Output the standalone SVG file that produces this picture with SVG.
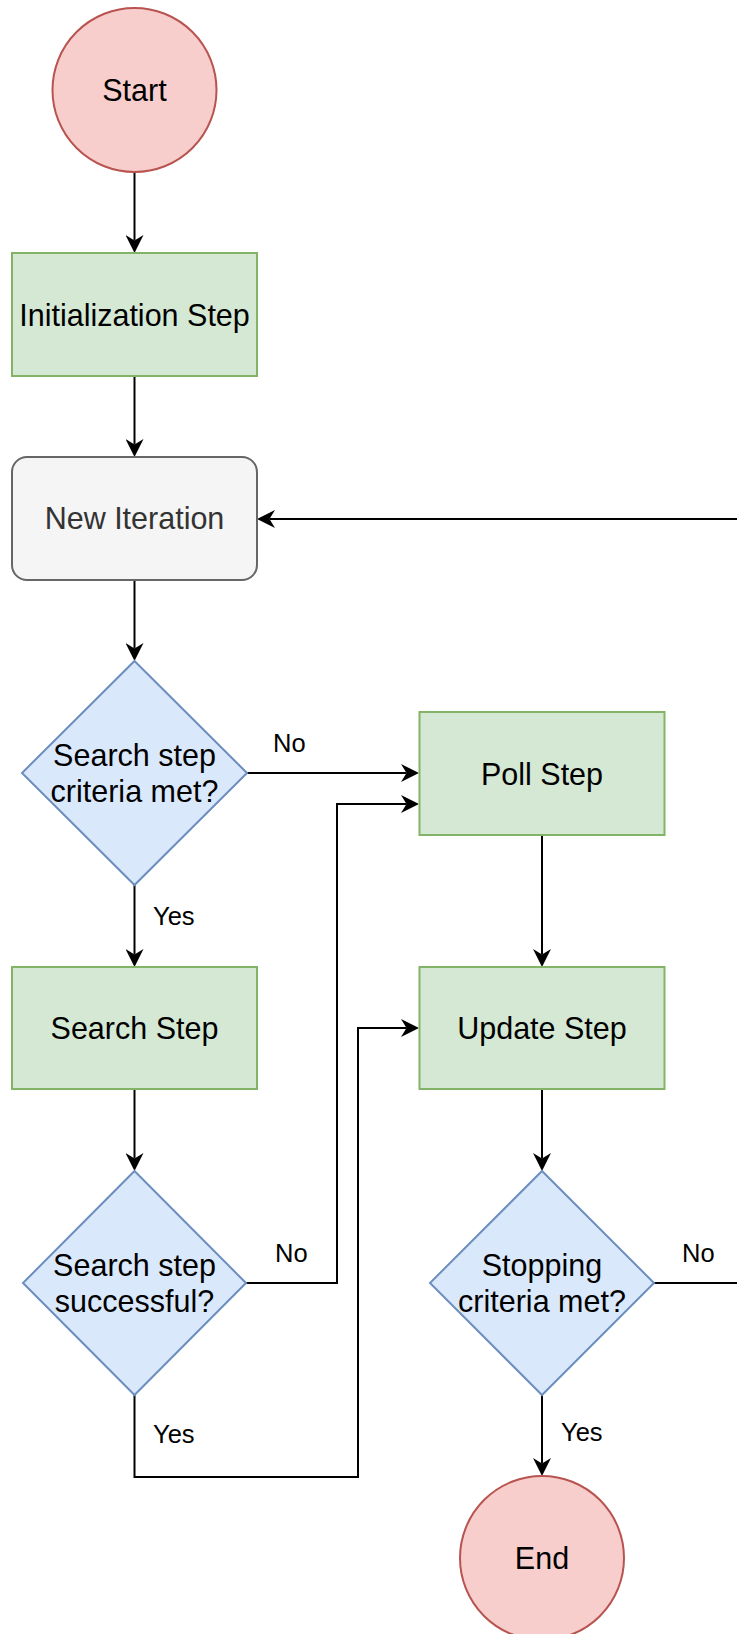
<svg xmlns="http://www.w3.org/2000/svg" width="737" height="1634" viewBox="0 0 737 1634">
  <style>
    .terminal { fill: #f8cecc; stroke: #b85450; stroke-width: 2; }
    .step { fill: #d5e8d4; stroke: #82b366; stroke-width: 2; }
    .iter { fill: #f5f5f5; stroke: #666666; stroke-width: 2; }
    .decision { fill: #dae8fc; stroke: #6c8ebf; stroke-width: 2; }
    .label { font-family: "Liberation Sans", Arial, sans-serif; font-size: 30.5px; fill: #000000; text-anchor: middle; }
    .label.grey { fill: #333333; }
    .edge { fill: none; stroke: #000000; stroke-width: 2; }
    .edge-label { font-family: "Liberation Sans", Arial, sans-serif; font-size: 25.5px; fill: #000000; }
  </style>
  <defs>
    <marker id="arrow" viewBox="0 0 18 18" refX="5.5" refY="9" markerWidth="18" markerHeight="18" markerUnits="userSpaceOnUse" orient="auto">
      <path d="M0,0 L18,9 L0,18 L5.5,9 Z" fill="#000000"/>
    </marker>
  </defs>

  <rect width="737" height="1634" fill="#ffffff"/>

  <!-- connectors (lines stop at the arrow notch; the marker reaches the target edge) -->
  <g id="connectors">
    <path class="edge" d="M134.5,172 V240.5" marker-end="url(#arrow)"/>
    <path class="edge" d="M134.5,376 V444.5" marker-end="url(#arrow)"/>
    <path class="edge" d="M134.5,580 V648.5" marker-end="url(#arrow)"/>
    <path class="edge" d="M247,773 H406.5" marker-end="url(#arrow)"/>
    <path class="edge" d="M134.5,885 V954.5" marker-end="url(#arrow)"/>
    <path class="edge" d="M134.5,1089 V1158.5" marker-end="url(#arrow)"/>
    <path class="edge" d="M246,1283 H337 V804 H406.5" marker-end="url(#arrow)"/>
    <path class="edge" d="M134.5,1395 V1477 H358 V1028 H406.5" marker-end="url(#arrow)"/>
    <path class="edge" d="M542,835 V954.5" marker-end="url(#arrow)"/>
    <path class="edge" d="M542,1089 V1158.5" marker-end="url(#arrow)"/>
    <path class="edge" d="M542,1395 V1463.5" marker-end="url(#arrow)"/>
    <path class="edge" d="M654,1283 H760 V519 H269.5" marker-end="url(#arrow)"/>

    <text class="edge-label" x="273" y="752">No</text>
    <text class="edge-label" x="153" y="925">Yes</text>
    <text class="edge-label" x="275" y="1262">No</text>
    <text class="edge-label" x="153" y="1443">Yes</text>
    <text class="edge-label" x="682" y="1262">No</text>
    <text class="edge-label" x="561" y="1441">Yes</text>
  </g>

  <g id="start">
    <circle class="terminal" cx="134.5" cy="90" r="82"/>
    <text class="label" x="134.5" y="101">Start</text>
  </g>

  <g id="init">
    <rect class="step" x="12" y="253" width="245" height="123"/>
    <text class="label" x="134.5" y="326">Initialization Step</text>
  </g>

  <g id="new-iteration">
    <rect class="iter" x="12" y="457" width="245" height="123" rx="15" ry="15"/>
    <text class="label grey" x="134.5" y="529">New Iteration</text>
  </g>

  <g id="search-criteria">
    <polygon class="decision" points="134.5,661 247,773 134.5,885 22,773"/>
    <text class="label" x="134.5" y="766">Search step</text>
    <text class="label" x="134.5" y="802">criteria met?</text>
  </g>

  <g id="poll">
    <rect class="step" x="419.5" y="712" width="245" height="123"/>
    <text class="label" x="542" y="785">Poll Step</text>
  </g>

  <g id="search">
    <rect class="step" x="12" y="967" width="245" height="122"/>
    <text class="label" x="134.5" y="1039">Search Step</text>
  </g>

  <g id="update">
    <rect class="step" x="419.5" y="967" width="245" height="122"/>
    <text class="label" x="542" y="1039">Update Step</text>
  </g>

  <g id="search-success">
    <polygon class="decision" points="134.5,1171 246,1283 134.5,1395 23,1283"/>
    <text class="label" x="134.5" y="1276">Search step</text>
    <text class="label" x="134.5" y="1312">successful?</text>
  </g>

  <g id="stopping">
    <polygon class="decision" points="542,1171 654,1283 542,1395 430,1283"/>
    <text class="label" x="542" y="1276">Stopping</text>
    <text class="label" x="542" y="1312">criteria met?</text>
  </g>

  <g id="end">
    <circle class="terminal" cx="542" cy="1558" r="82"/>
    <text class="label" x="542" y="1569">End</text>
  </g>
</svg>
